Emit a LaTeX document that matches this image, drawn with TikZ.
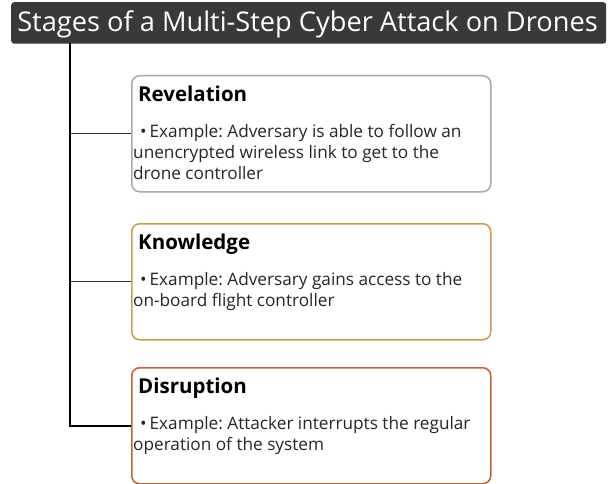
\documentclass[tikz,border=0pt]{standalone}
\usepackage{fontspec}
\setmainfont{Open Sans}
\usetikzlibrary{positioning}
\definecolor{titlegray}{HTML}{3A3838}
\definecolor{revgray}{HTML}{A8A8A8}
\definecolor{knowgold}{HTML}{D09A4E}
\definecolor{disorange}{HTML}{C8602E}
\tikzset{
  stagebox/.style={draw=#1, line width=1.5pt, rounded corners=8pt, fill=white,
    minimum width=359pt, minimum height=116pt, anchor=north west, inner sep=0pt},
  stagehead/.style={anchor=base west, inner sep=0pt, font=\fontsize{20.5}{24}\selectfont\bfseries},
  stagetext/.style={anchor=base west, inner sep=0pt, text=black!85,
    font=\fontsize{17.2}{21}\selectfont},
  trunk/.style={line width=1.5pt, black},
  branch/.style={line width=1pt, black!80},
}
\newcommand{\stagebody}[1]{\parbox[t]{354pt}{\frenchspacing\raggedright #1}}

\begin{document}
\begin{tikzpicture}[x=1pt, y=-1pt]
    \useasboundingbox (0,0) rectangle (616,484);
    % title bar
    \node[fill=titlegray, rounded corners=3pt, minimum width=595pt, minimum height=41.5pt,
      anchor=north west, inner sep=0pt] (title) at (11,2) {};
    \node[text=white, anchor=base, inner sep=0pt, font=\fontsize{27.2}{30}\selectfont]
      (titletext) at (307.5,32) {Stages of a Multi-Step Cyber Attack on Drones};

    % stage boxes
    \node[stagebox=revgray] (revelation) at (131,75) {};
    \node[stagebox=knowgold] (knowledge) at (131,223) {};
    \node[stagebox=disorange] (disruption) at (131,367) {};

    \node[stagehead] (revhead) at ([shift={(7,26.5)}]revelation.north west) {Revelation};
    \node[stagetext] (revtext) at ([shift={(2,62.5)}]revelation.north west)
      {\stagebody{\hspace*{7pt}\textbullet\hspace{3pt}Example: Adversary is able to follow an\\
       unencrypted wireless link to get to the\\drone controller}};

    \node[stagehead] (knowhead) at ([shift={(7,26.5)}]knowledge.north west) {Knowledge};
    \node[stagetext] (knowtext) at ([shift={(2,62.5)}]knowledge.north west)
      {\stagebody{\hspace*{7pt}\textbullet\hspace{3pt}Example: Adversary gains access to the\\
       on-board flight controller}};

    \node[stagehead] (dishead) at ([shift={(7,26.5)}]disruption.north west) {Disruption};
    \node[stagetext] (distext) at ([shift={(2,62.5)}]disruption.north west)
      {\stagebody{\hspace*{7pt}\textbullet\hspace{3pt}Example: Attacker interrupts the regular\\
       operation of the system}};

    % connectors
    \coordinate (trunktop) at (70,43.5);
    \draw[trunk] (trunktop) |- (disruption.west);
    \draw[branch] (trunktop |- revelation.west) -- (revelation.west);
    \draw[branch] (trunktop |- knowledge.west) -- (knowledge.west);
\end{tikzpicture}
\end{document}
